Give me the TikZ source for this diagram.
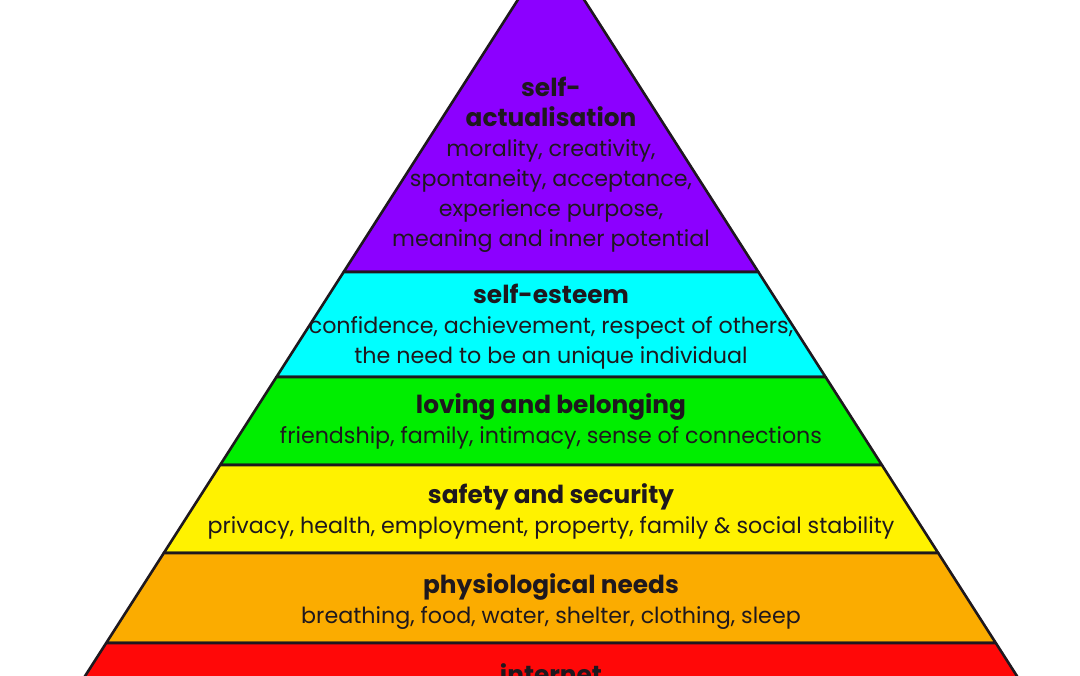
\documentclass[tikz,border=0pt]{standalone}
\usepackage{fontspec}
\setmainfont{Poppins}
\usepackage{xcolor}
\usepackage{tikz}
\definecolor{actpurple}{RGB}{140,0,255}
\definecolor{esteemcyan}{RGB}{0,255,255}
\definecolor{lovegreen}{RGB}{0,238,0}
\definecolor{safeyellow}{RGB}{255,242,0}
\definecolor{physorange}{RGB}{251,172,0}
\definecolor{netred}{RGB}{255,8,8}
\definecolor{inkgray}{RGB}{30,24,30}
\tikzset{
  level/.style={draw=inkgray,line width=1.3pt,line join=round},
  needs/.style={align=center,text=inkgray,inner sep=0pt,
    font=\fontsize{11.1}{15}\selectfont},
}
\newcommand{\needtitle}[1]{{\fontsize{12.4}{15}\selectfont\bfseries #1}}

\begin{document}
\begin{tikzpicture}[x=0.5pt,y=-0.5pt]
\useasboundingbox (0,0) rectangle (1080,675);
\clip (0,0) rectangle (1080,675);
\fill[white] (0,0) rectangle (1080,675);
% apex at (551,-52), half width grows .64 per unit
\foreach \ytop/\ybot/\col in {-52/272/actpurple,272/377/esteemcyan,
            377/465/lovegreen,465/553/safeyellow,553/643/physorange,
            643/760/netred}
            \filldraw[level,fill=\col] ({551-.64*(\ytop+52)},\ytop)
            -- ({551+.64*(\ytop+52)},\ytop) -- ({551+.64*(\ybot+52)},\ybot)
            -- ({551-.64*(\ybot+52)},\ybot) -- cycle;
\node[needs] (selfact) at (551,165) {\needtitle{self-}\\\needtitle{actualisation}\\
  morality, creativity,\\spontaneity, acceptance,\\experience purpose,\\
  meaning and inner potential};
\node[needs] (esteem) at (551,327) {\needtitle{self-esteem}\\
  confidence, achievement, respect of others,\\the need to be an unique individual};
\node[needs] (loving) at (551,421) {\needtitle{loving and belonging}\\
  friendship, family, intimacy, sense of connections};
\node[needs] (safety) at (551,511) {\needtitle{safety and security}\\
  privacy, health, employment, property, family \& social stability};
\node[needs] (physio) at (551,602) {\needtitle{physiological needs}\\
  breathing, food, water, shelter, clothing, sleep};
\node[needs] (internet) at (551,674) {\needtitle{internet}};
\end{tikzpicture}
\end{document}
